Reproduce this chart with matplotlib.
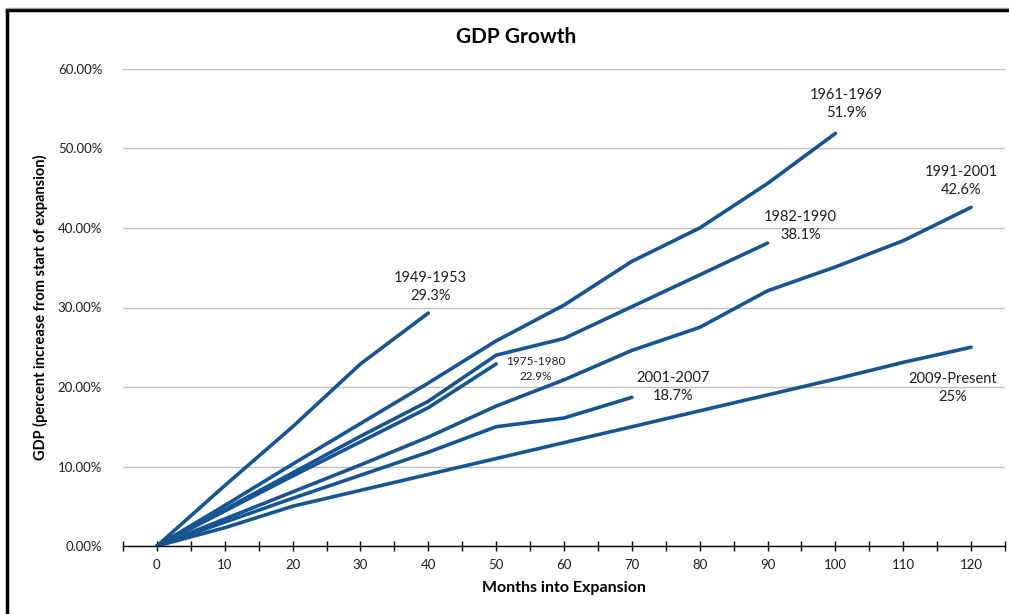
import matplotlib
matplotlib.use("Agg")
import matplotlib.pyplot as plt
from matplotlib.lines import Line2D
from matplotlib.ticker import PercentFormatter, MultipleLocator

# months into expansion, one point every 10 months
months = [0, 10, 20, 30, 40, 50, 60, 70, 80, 90, 100, 110, 120]

# cumulative GDP growth (fraction) for each expansion
gdp_1949 = [0, 0.076, 0.150, 0.229, 0.293]
gdp_1961 = [0, 0.051, 0.103, 0.154, 0.205, 0.258, 0.303, 0.358, 0.400, 0.456, 0.519]
gdp_1975 = [0, 0.044, 0.088, 0.131, 0.174, 0.229]
gdp_1982 = [0, 0.046, 0.092, 0.138, 0.182, 0.240, 0.261, 0.301, 0.341, 0.381]
gdp_1991 = [0, 0.034, 0.068, 0.102, 0.137, 0.176, 0.209, 0.246, 0.275, 0.321, 0.351, 0.384, 0.426]
gdp_2001 = [0, 0.030, 0.060, 0.089, 0.118, 0.150, 0.161, 0.187]
gdp_2009 = [0, 0.023, 0.050, 0.070, 0.090, 0.110, 0.130, 0.150, 0.170, 0.190, 0.210, 0.231, 0.250]

series = [
    ("1949-1953\n29.3%", gdp_1949, (2, 26), 10.5),
    ("1961-1969\n51.9%", gdp_1961, (11, 29), 10.5),
    ("1975-1980\n22.9%", gdp_1975, (40, -5), 8.5),
    ("1982-1990\n38.1%", gdp_1982, (33, 17), 10.5),
    ("1991-2001\n42.6%", gdp_1991, (-10, 26), 10.5),
    ("2001-2007\n18.7%", gdp_2001, (41, 10), 10.5),
    ("2009-Present\n25%", gdp_2009, (-18, -41), 10.5),
]

line_color = "#175592"
text_color = "#1e1e1e"
plt.rcParams["font.family"] = ["Lato", "DejaVu Sans"]

fig = plt.figure(figsize=(10.09, 6.14), dpi=100)
ax = fig.add_axes([123 / 1009, 1 - 546 / 614, (1005 - 123) / 1009, (546 - 69) / 614])

for label, vals, off, fs in series:
    xs = months[:len(vals)]
    ax.plot(xs, vals, color=line_color, lw=2.6, solid_capstyle="round",
            solid_joinstyle="round", zorder=3)
    ax.annotate(label, (xs[-1], vals[-1]), xytext=off, textcoords="offset pixels",
                ha="center", va="center", fontsize=fs, color=text_color,
                linespacing=1.35)

ax.set_xlim(-5, 125)
ax.set_ylim(0, 0.6)
ax.xaxis.set_major_locator(MultipleLocator(10))
ax.xaxis.set_minor_locator(MultipleLocator(5))
ax.yaxis.set_major_locator(MultipleLocator(0.1))
ax.yaxis.set_major_formatter(PercentFormatter(1.0, decimals=2))

ax.grid(axis="y", color="#c0c0c0", lw=1)
ax.set_axisbelow(True)
for s in ["top", "right", "left"]:
    ax.spines[s].set_visible(False)
ax.spines["bottom"].set_color("black")
ax.spines["bottom"].set_linewidth(1.0)
ax.spines["bottom"].set_zorder(4)

ax.tick_params(axis="x", which="both", direction="inout", length=7, width=1,
               labelsize=9.5, pad=6, colors="black", labelcolor=text_color)
ax.tick_params(axis="y", length=0, labelsize=9.5, pad=15, labelcolor=text_color)

ax.set_xlabel("Months into Expansion", fontsize=11.5, fontweight="bold", labelpad=7)
ax.set_ylabel("GDP (percent increase from start of expansion)", fontsize=10.5,
              fontweight="bold", labelpad=7)
fig.text(516 / 1009, 1 - 37 / 614, "GDP Growth", ha="center", va="center",
         fontsize=15, fontweight="bold")

# chart border (cropped screenshot: only left and top edges show)
bx, by = 7 / 1009, 1 - 10 / 614
fig.add_artist(Line2D([bx, bx], [0, by], transform=fig.transFigure,
                      color="black", lw=2.5))
fig.add_artist(Line2D([bx, 1], [by, by], transform=fig.transFigure,
                      color="black", lw=2.5))
fig.add_artist(Line2D([bx, 1], [by + 2.5 / 614, by + 2.5 / 614],
                      transform=fig.transFigure, color="#9a9a9a", lw=1))

fig.savefig("out.png", dpi=100)
